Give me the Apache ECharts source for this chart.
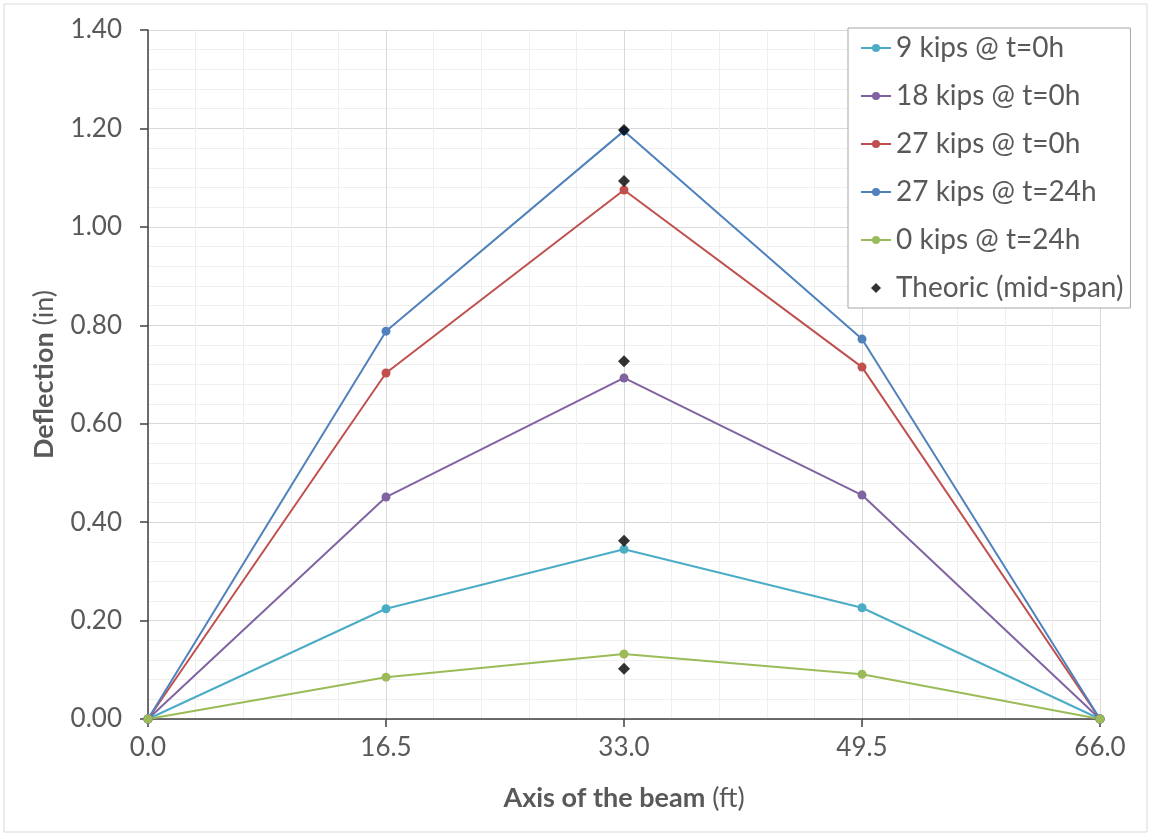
<!DOCTYPE html>
<html>
<head>
<meta charset="utf-8">
<script src="https://cdn.jsdelivr.net/npm/echarts@6/dist/echarts.min.js"></script>
<style>
  html, body { margin: 0; padding: 0; background: #fff; }
  #chart { width: 1151px; height: 838px; }
</style>
</head>
<body>
<div id="chart"></div>
<script>
// positions along the beam (ft)
var positions = [0, 16.5, 33, 49.5, 66];

// measured deflections (in)
var kips9_t0 = [0, 0.224, 0.345, 0.226, 0];
var kips18_t0 = [0, 0.451, 0.693, 0.455, 0];
var kips27_t0 = [0, 0.703, 1.075, 0.715, 0];
var kips27_t24 = [0, 0.788, 1.195, 0.772, 0];
var kips0_t24 = [0, 0.085, 0.132, 0.091, 0];

// theoretical mid-span values
var theoricX = [33, 33, 33, 33, 33];
var theoricY = [1.197, 1.093, 0.727, 0.362, 0.102];

var seriesNames = ['9 kips @ t=0h', '18 kips @ t=0h', '27 kips @ t=0h', '27 kips @ t=24h', '0 kips @ t=24h'];
var seriesData = [kips9_t0, kips18_t0, kips27_t0, kips27_t24, kips0_t24];
var colors = ['#4bacc6', '#8064a2', '#c0504d', '#4f81bd', '#9bbb59'];

function pairs(xs, ys) {
  return xs.map(function (x, i) { return [x, ys[i]]; });
}

var series = seriesNames.map(function (name, i) {
  return {
    name: name,
    type: 'line',
    data: pairs(positions, seriesData[i]),
    symbol: 'circle',
    symbolSize: 9,
    showSymbol: true,
    lineStyle: { width: 2, color: colors[i] },
    itemStyle: { color: colors[i] },
    z: 2
  };
});

series.push({
  name: 'Theoric (mid-span)',
  type: 'scatter',
  data: pairs(theoricX, theoricY),
  symbol: 'diamond',
  symbolSize: 12,
  itemStyle: { color: '#000' },
  z: 5
});

var font = 'Lato, "Open Sans", sans-serif';
var textColor = '#595959';

var legendData = seriesNames.map(function (n) { return { name: n }; });
legendData.push({ name: 'Theoric (mid-span)', icon: 'path://M0,5L5,0L10,5L5,10Z' });

var option = {
  animation: false,
  textStyle: { fontFamily: font },
  graphic: [{
    type: 'rect',
    shape: { x: 4, y: 4, width: 1143, height: 828 },
    style: { fill: 'none', stroke: '#d9d9d9', lineWidth: 1 },
    z: -1
  }],
  grid: { left: 148, right: 51, top: 30, bottom: 119 },
  xAxis: {
    type: 'value',
    min: 0,
    max: 66,
    interval: 16.5,
    name: '{b|Axis of the beam} (ft)',
    nameLocation: 'middle',
    nameGap: 66,
    nameTextStyle: {
      fontSize: 27, color: textColor, fontFamily: font,
      rich: { b: { fontSize: 27, fontWeight: 'bold', color: textColor, fontFamily: font } }
    },
    axisLine: { lineStyle: { color: '#404040', width: 1.5 } },
    axisTick: { show: true, length: 8, lineStyle: { color: '#404040', width: 1.5 } },
    axisLabel: {
      fontSize: 26, color: textColor, margin: 16,
      formatter: function (v) { return v.toFixed(1); }
    },
    splitLine: { show: true, lineStyle: { color: '#d9d9d9', width: 1 } },
    minorTick: { show: false, splitNumber: 5 },
    minorSplitLine: { show: true, lineStyle: { color: '#efefef', width: 1 } }
  },
  yAxis: {
    type: 'value',
    min: 0,
    max: 1.4,
    interval: 0.2,
    name: '{b|Deflection} (in)',
    nameLocation: 'middle',
    nameGap: 90,
    nameTextStyle: {
      fontSize: 27, color: textColor, fontFamily: font,
      rich: { b: { fontSize: 27, fontWeight: 'bold', color: textColor, fontFamily: font } }
    },
    axisLine: { show: true, lineStyle: { color: '#404040', width: 1.5 } },
    axisTick: { show: true, length: 8, lineStyle: { color: '#404040', width: 1.5 } },
    axisLabel: {
      fontSize: 26, color: textColor, margin: 26,
      formatter: function (v) { return v.toFixed(2); }
    },
    splitLine: { show: true, lineStyle: { color: '#d9d9d9', width: 1 } },
    minorTick: { show: false, splitNumber: 5 },
    minorSplitLine: { show: true, lineStyle: { color: '#efefef', width: 1 } }
  },
  legend: {
    orient: 'vertical',
    left: 848,
    top: 28,
    padding: [6, 7, 6, 12],
    backgroundColor: '#fff',
    borderColor: '#a6a6a6',
    borderWidth: 1,
    borderRadius: 0,
    itemWidth: 30,
    itemHeight: 10,
    itemGap: 20,
    textStyle: { fontSize: 28, color: textColor, fontFamily: font, lineHeight: 28 },
    data: legendData
  },
  series: series
};

var chart = echarts.init(document.getElementById('chart'));
chart.setOption(option);
</script>
</body>
</html>
